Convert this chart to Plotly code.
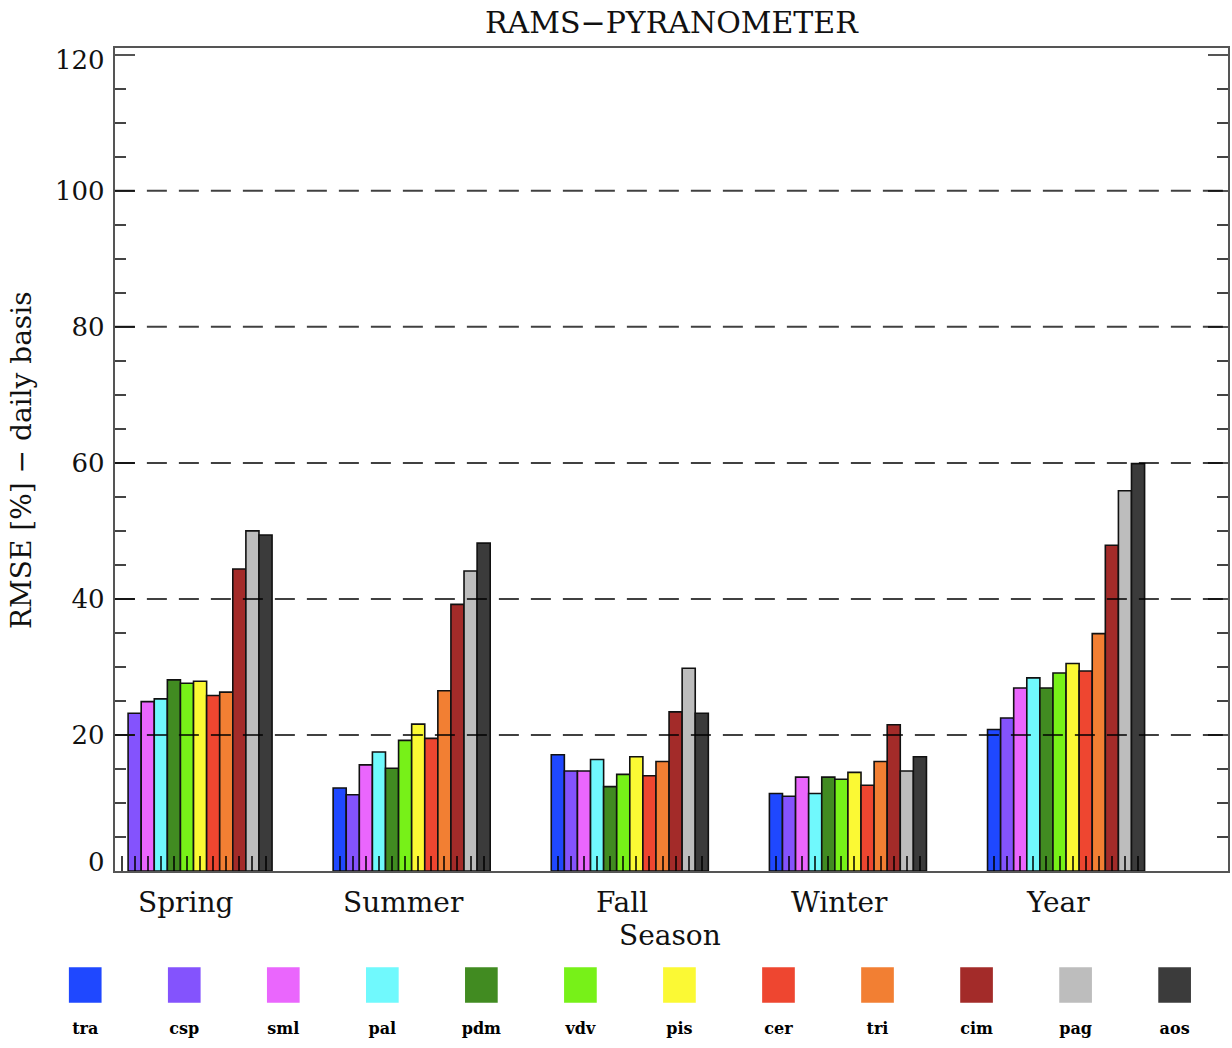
import plotly.graph_objects as go

# ---------------- data ----------------
seasons = ["Spring", "Summer", "Fall", "Winter", "Year"]
stations = ["tra", "csp", "sml", "pal", "pdm", "vdv", "pis", "cer", "tri", "cim", "pag", "aos"]
colors = ["#1f48ff", "#8453fd", "#ea66fd", "#70f9fd", "#418b21", "#77f118",
          "#fbf934", "#ee4630", "#f27f33", "#a32b29", "#bdbdbd", "#3b3b3b"]

# RMSE [%] per station, values for Spring, Summer, Fall, Winter, Year
tra = [None, 12.2, 17.1, 11.4, 20.8]
csp = [23.2, 11.2, 14.7, 11.0, 22.5]
sml = [24.9, 15.6, 14.7, 13.8, 26.9]
pal = [25.3, 17.5, 16.4, 11.4, 28.4]
pdm = [28.1, 15.1, 12.4, 13.8, 26.9]
vdv = [27.6, 19.2, 14.2, 13.5, 29.1]
pis = [27.9, 21.6, 16.8, 14.5, 30.5]
cer = [25.8, 19.5, 14.0, 12.6, 29.4]
tri = [26.3, 26.5, 16.1, 16.1, 34.9]
cim = [44.4, 39.2, 23.4, 21.5, 47.9]
pag = [50.0, 44.1, 29.8, 14.7, 55.9]
aos = [49.4, 48.2, 23.2, 16.8, 59.9]
values = [tra, csp, sml, pal, pdm, vdv, pis, cer, tri, cim, pag, aos]

y_ticks = [0, 20, 40, 60, 80, 100, 120]
y_ticktext = ["0", "20", "40", "60", "80", "100", "120"]
grid_values = [20, 40, 60, 80, 100]

# ---------------- layout geometry ----------------
W, H = 1232, 1048
ML, MR, MT, MB = 40, 2, 48, 8
PW = W - ML - MR
PH = H - MT - MB
ax_left, ax_bottom = 115, 871
x_dom = [(ax_left - ML) / PW, 1.0]
y_dom = [(H - MB - ax_bottom) / PH, 1.0]
x_range = [-0.3606, 4.7424]
y_range = [0, 121]
bargap = 0.28
nser = len(stations)
bw = (1 - bargap) / nser

FONT = "DejaVu Serif"

def py(pix):
    """pixel row -> paper y"""
    return (H - MB - pix) / PH

def px(pix):
    return (pix - ML) / PW

fig = go.Figure()
xs = list(range(len(seasons)))
for name, col, vals in zip(stations, colors, values):
    fig.add_trace(go.Bar(
        x=xs, y=vals, name=name, marker=dict(color=col, line=dict(color="#111111", width=1.6)),
        xaxis="x", yaxis="y", showlegend=False))

# minor x ticks at every bar centre
bar_centres = [i + (j - (nser - 1) / 2) * bw for i in xs for j in range(nser)]

# dashed grid lines drawn above the bars
for g in grid_values:
    fig.add_shape(type="line", xref="x domain", yref="y", x0=0, x1=1, y0=g, y1=g,
                  line=dict(color="rgba(0,0,0,0.75)", width=2, dash="20px,12px"), layer="above")

# legend: coloured boxes + labels on a hidden axis pair
leg_x = list(range(nser))
fig.add_trace(go.Bar(
    x=leg_x, y=[0.238] * nser, base=[0.2507] * nser, width=0.33,
    marker=dict(color=colors, line=dict(width=0)), xaxis="x3", yaxis="y3",
    showlegend=False, hoverinfo="skip"))
fig.add_trace(go.Scatter(
    x=leg_x, y=[0.067] * nser, mode="text", text=["<b>%s</b>" % s for s in stations],
    textfont=dict(family=FONT, size=16, color="black"), xaxis="x3", yaxis="y3",
    showlegend=False, hoverinfo="skip"))

fig.update_layout(
    width=W, height=H,
    margin=dict(l=ML, r=MR, t=MT, b=MB),
    paper_bgcolor="white", plot_bgcolor="white",
    barmode="group", bargap=bargap, bargroupgap=0,
    font=dict(family=FONT, color="black"),
    title=dict(text="RAMS\u2212PYRANOMETER", font=dict(family=FONT, size=30, color="#111"),
               xref="paper", x=px((ax_left + W - MR) / 2), xanchor="center",
               yref="container", y=1 - 22 / H, yanchor="middle"),
    xaxis=dict(domain=x_dom, range=x_range, anchor="y",
               tickmode="array", tickvals=bar_centres, showticklabels=False,
               ticks="inside", ticklen=15, tickwidth=1.5, tickcolor="rgba(0,0,0,0.75)",
               showline=True, linecolor="#555", linewidth=2, mirror=True,
               showgrid=False, zeroline=False, layer="above traces"),
    yaxis=dict(domain=y_dom, range=y_range, anchor="x",
               tickmode="array", tickvals=y_ticks,
               ticktext=[("" if t in ("0", "120") else t) for t in y_ticktext],
               ticks="inside", ticklen=20, tickwidth=1.5, tickcolor="#555",
               minor=dict(ticks="inside", ticklen=11, dtick=5, tickwidth=1.5, tickcolor="#444", showgrid=False),
               showline=True, linecolor="#555", linewidth=2, mirror="ticks",
               showgrid=False, zeroline=False, layer="above traces",
               tickfont=dict(family=FONT, size=26, color="#111"), ticklabelstandoff=3),
    xaxis3=dict(domain=[0, 1], range=[-0.4567, 11.539], visible=False, anchor="y3"),
    yaxis3=dict(domain=[0, 0.15], range=[0, 1], visible=False, anchor="x3"),
)

# end labels of the y axis, nudged inside the box as in the original
for val, txt, shift in [(y_ticks[0], y_ticktext[0], 9), (y_ticks[-1], y_ticktext[-1], -5)]:
    fig.add_annotation(text=txt, xref="paper", yref="y", x=px(ax_left - 8), y=val, yshift=shift,
                       showarrow=False, xanchor="right", yanchor="middle",
                       font=dict(family=FONT, size=26, color="#111"))

# season labels under each group
for i, s in enumerate(seasons):
    fig.add_annotation(text=s, xref="x", yref="paper", x=i - 0.0366, y=py(902),
                       showarrow=False, xanchor="center", yanchor="middle",
                       font=dict(family=FONT, size=28, color="#111"))

fig.add_annotation(text="Season", xref="paper", yref="paper",
                   x=px(671), y=py(935), showarrow=False,
                   xanchor="center", yanchor="middle", font=dict(family=FONT, size=28, color="#111"))
fig.add_annotation(text="RMSE [%] \u2212 daily basis", xref="paper", yref="paper",
                   x=px(22), y=py(460), showarrow=False, textangle=-90,
                   xanchor="center", yanchor="middle", font=dict(family=FONT, size=28, color="#111"))

fig.write_html("out.html", config={"displayModeBar": False},
               post_script="document.body.style.margin='0';document.body.style.overflow='hidden';")
